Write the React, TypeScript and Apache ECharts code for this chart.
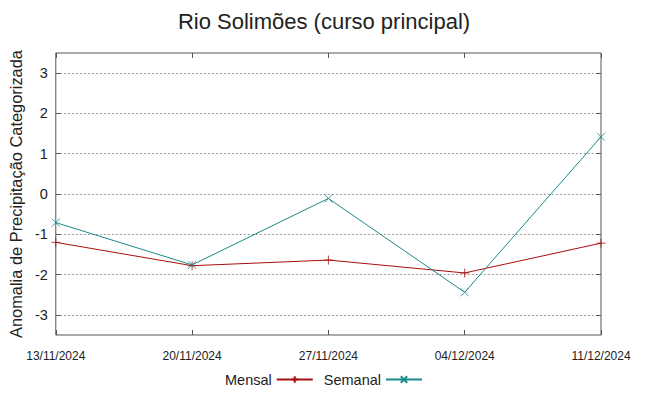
import React, { useEffect, useRef } from "react";
import * as echarts from "echarts";

const dates = ["13/11/2024", "20/11/2024", "27/11/2024", "04/12/2024", "11/12/2024"];
const mensal = [-1.2, -1.78, -1.64, -1.96, -1.22];
const semanal = [-0.71, -1.76, -0.11, -2.44, 1.42];
const yTicks = [-3, -2, -1, 0, 1, 2, 3];

const RED = "#a80f0f";
const TEAL = "#1b8a8a";
const FONT = "Liberation Sans";

export default function App() {
  const ref = useRef<HTMLDivElement>(null);
  useEffect(() => {
    const chart = echarts.init(ref.current!, null, { renderer: "svg" });
    chart.setOption({
      animation: false,
      backgroundColor: "#fff",
      textStyle: { fontFamily: FONT },
      title: {
        text: "Rio Solimões (curso principal)",
        left: "center",
        top: 5,
        textStyle: { fontFamily: FONT, fontSize: 22, fontWeight: "normal", color: "#222" },
      },
      grid: {
        left: 50,
        right: 47,
        top: 53,
        bottom: 61,
        show: true,
        borderColor: "#555",
        borderWidth: 1,
        backgroundColor: "transparent",
      },
      legend: {
        bottom: 4,
        left: "center",
        align: "right",
        itemWidth: 36,
        itemHeight: 8,
        itemGap: 10,
        textStyle: { fontFamily: FONT, fontSize: 14.5, color: "#222" },
        data: ["Mensal", "Semanal"],
      },
      xAxis: [
        {
          type: "category",
          data: dates,
          boundaryGap: false,
          axisLine: { show: false, onZero: false },
          axisTick: { show: true, inside: true, length: 5, lineStyle: { color: "#555" } },
          axisLabel: { fontFamily: FONT, fontSize: 12, color: "#222", margin: 15 },
          splitLine: { show: false },
        },
        {
          type: "category",
          data: dates,
          position: "top",
          boundaryGap: false,
          axisLine: { show: false, onZero: false },
          axisTick: { show: true, inside: true, length: 5, lineStyle: { color: "#555" } },
          axisLabel: { show: false },
          splitLine: { show: false },
        },
      ],
      yAxis: [
        {
          type: "value",
          min: -3.5,
          max: 3.5,
          name: "Anomalia de Precipitação Categorizada",
          nameLocation: "middle",
          nameGap: 30,
          nameTextStyle: { fontFamily: FONT, fontSize: 16.4, color: "#222" },
          axisLine: { show: false, onZero: false },
          axisTick: { show: true, inside: true, length: 5, customValues: yTicks, lineStyle: { color: "#555" } },
          axisLabel: { fontFamily: FONT, fontSize: 14.5, color: "#222", margin: 8, customValues: yTicks },
          splitLine: { show: true, lineStyle: { color: "#999", type: [2, 2], width: 1 } },
        },
        {
          type: "value",
          min: -3.5,
          max: 3.5,
          position: "right",
          axisLine: { show: false, onZero: false },
          axisTick: { show: true, inside: true, length: 5, customValues: yTicks, lineStyle: { color: "#555" } },
          axisLabel: { show: false, customValues: yTicks },
          splitLine: { show: false },
        },
      ],
      series: [
        {
          name: "Mensal",
          type: "line",
          data: mensal,
          symbol: "path://M0,5L10,5M5,0L5,10",
          symbolSize: 9,
          showSymbol: true,
          lineStyle: { color: RED, width: 1 },
          itemStyle: { color: RED, borderColor: RED, borderWidth: 0.8 },
          emphasis: { disabled: true },
        },
        {
          name: "Semanal",
          type: "line",
          data: semanal,
          symbol: "path://M0,0L10,10M10,0L0,10",
          symbolSize: 8,
          showSymbol: true,
          lineStyle: { color: TEAL, width: 1 },
          itemStyle: { color: TEAL, borderColor: TEAL, borderWidth: 0.8 },
          emphasis: { disabled: true },
        },
      ],
    });
    return () => chart.dispose();
  }, []);
  return <div ref={ref} style={{ width: 648, height: 396, position: "fixed", left: 0, top: 0 }} />;
}
